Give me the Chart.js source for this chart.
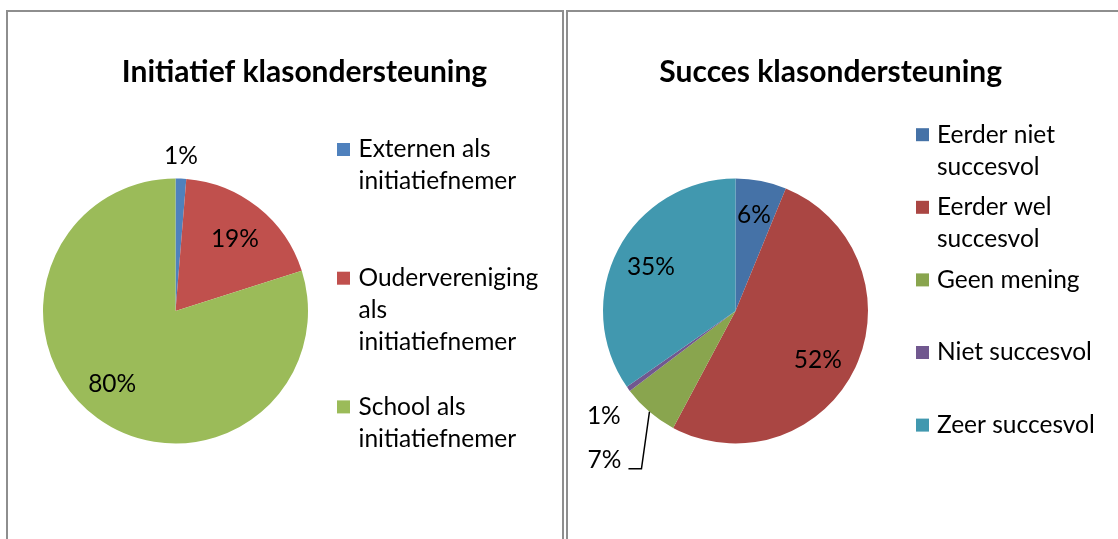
<!DOCTYPE html>
<html>
<head>
<meta charset="utf-8">
<script src="https://cdn.jsdelivr.net/npm/chart.js@4.4.1/dist/chart.umd.min.js"></script>
<style>
  html, body { margin: 0; padding: 0; background: #fff; width: 1118px; height: 539px; overflow: hidden; }
  .panel { position: absolute; top: 10px; height: 600px; border: 2px solid #8e8e8e; box-sizing: border-box; }
  #p1 { left: 6px; width: 558px; }
  #p2 { left: 566px; width: 600px; }
  canvas { position: absolute; top: 12px; }
  #c1 { left: 8px; }
  #c2 { left: 568px; }
</style>
</head>
<body>
<div class="panel" id="p1"></div>
<div class="panel" id="p2"></div>
<canvas id="c1" width="554" height="527"></canvas>
<canvas id="c2" width="550" height="527"></canvas>
<script>
// Left chart data
const initTitle = "Initiatief klasondersteuning";
const initLabels = [["Externen als", "initiatiefnemer"], ["Oudervereniging", "als", "initiatiefnemer"], ["School als", "initiatiefnemer"]];
const initValues = [1.3, 18.8, 79.9];
const initColors = ["#4F81BD", "#C0504D", "#9BBB59"];

// Right chart data
const succTitle = "Succes klasondersteuning";
const succLabels = [["Eerder niet", "succesvol"], ["Eerder wel", "succesvol"], ["Geen mening"], ["Niet succesvol"], ["Zeer succesvol"]];
const succValues = [6.2, 51.6, 6.9, 0.6, 34.7];
const succColors = ["#4572A7", "#AA4643", "#89A54E", "#71588F", "#4198AF"];

const FONT = "Lato, 'Noto Sans', sans-serif";

// draws title, percentage labels and the legend the way Excel does it
const decor = {
  id: "decor",
  afterDraw(chart, args, o) {
    const ctx = chart.ctx;
    const meta = chart.getDatasetMeta(0);
    const vals = chart.data.datasets[0].data;
    const colors = chart.data.datasets[0].backgroundColor;
    const total = vals.reduce((a, b) => a + b, 0);
    ctx.save();
    ctx.fillStyle = "#000";

    // title
    ctx.font = "bold " + o.titleSize + "px " + FONT;
    ctx.textAlign = "center";
    ctx.textBaseline = "middle";
    ctx.fillText(o.title, o.titleX, o.titleY);

    // percentage labels
    ctx.font = o.fontSize + "px " + FONT;
    meta.data.forEach((arc, i) => {
      const p = arc.getProps(["x", "y", "startAngle", "endAngle", "outerRadius"], true);
      const mid = (p.startAngle + p.endAngle) / 2;
      const txt = Math.round(vals[i] / total * 100) + "%";
      const pl = o.place[i] || {};
      if (pl.leader) {
        const ex = p.x + Math.cos(mid) * p.outerRadius;
        const ey = p.y + Math.sin(mid) * p.outerRadius;
        ctx.strokeStyle = "#000";
        ctx.lineWidth = 1.5;
        ctx.beginPath();
        ctx.moveTo(ex, ey);
        ctx.lineTo(ex + pl.leader.elbow[0], ey + pl.leader.elbow[1]);
        ctx.lineTo(ex + pl.leader.end[0], ey + pl.leader.end[1]);
        ctx.stroke();
        ctx.textAlign = "right";
        ctx.fillText(txt, ex + pl.leader.text[0], ey + pl.leader.text[1]);
        ctx.textAlign = "center";
        return;
      }
      const r = pl.out != null ? p.outerRadius + pl.out : p.outerRadius * 0.72;
      const lx = p.x + Math.cos(mid) * r + (pl.dx || 0);
      const ly = p.y + Math.sin(mid) * r + (pl.dy || 0);
      ctx.fillText(txt, lx, ly);
    });

    // legend
    const lg = o.legend;
    ctx.textAlign = "left";
    chart.data.labels.forEach((lines, i) => {
      const y0 = lg.y + i * lg.step;
      ctx.fillStyle = colors[i];
      ctx.fillRect(lg.x, y0 - lg.box / 2, lg.box, lg.box);
      ctx.fillStyle = "#000";
      lines.forEach((ln, j) => ctx.fillText(ln, lg.textX, y0 + j * lg.lh));
    });
    ctx.restore();
  }
};

function makePie(id, labels, values, colors, padRight, decorOpts) {
  return new Chart(document.getElementById(id), {
    type: "pie",
    data: {
      labels: labels,
      datasets: [{ data: values, backgroundColor: colors, borderWidth: 0, hoverOffset: 0 }]
    },
    options: {
      responsive: false,
      animation: false,
      events: [],
      layout: { padding: { left: 35, top: 166.5, right: padRight, bottom: 95.5 } },
      plugins: {
        legend: { display: false },
        tooltip: { enabled: false },
        decor: decorOpts
      }
    },
    plugins: [decor]
  });
}

makePie("c1", initLabels, initValues, initColors, 254, {
  title: initTitle, titleX: 296.5, titleY: 60, titleSize: 30, fontSize: 24.5,
  place: [{ out: 23, dx: -1 }, { dy: 3 }, { dx: -7, dy: -4 }],
  legend: { x: 329, y: 137.5, step: 128.7, lh: 32, box: 13, textX: 350.5 }
});

makePie("c2", succLabels, succValues, succColors, 250, {
  title: succTitle, titleX: 262.7, titleY: 60, titleSize: 30, fontSize: 24.5,
  place: [{ dy: -2 }, { dx: -4, dy: 8 }, { leader: { elbow: [-8, 57], end: [-21, 57], text: [-28, 48] } }, { out: 34, dx: 3, dy: 7 }, {}],
  legend: { x: 348, y: 122.7, step: 72.6, lh: 32, box: 13, textX: 369 }
});
</script>
</body>
</html>
